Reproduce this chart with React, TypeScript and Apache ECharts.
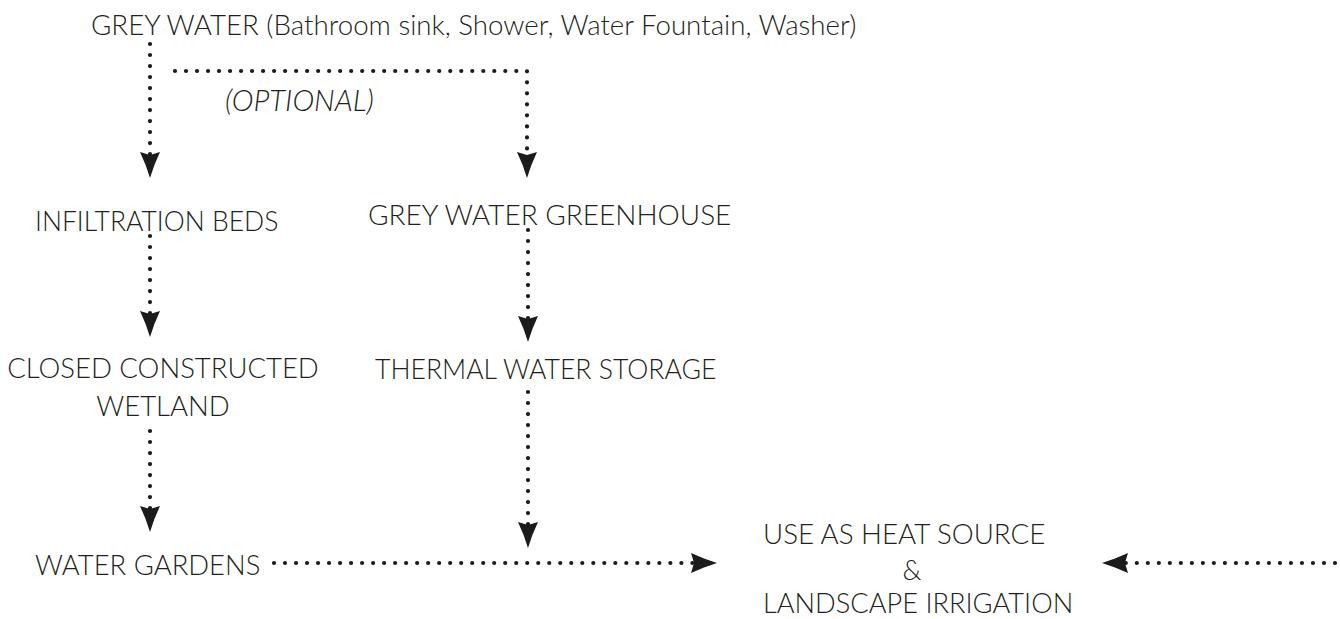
import React, { useEffect, useRef } from "react";
import * as echarts from "echarts";

// Diagram nodes (text labels) in page coordinates
const labelTexts = [
  "GREY WATER (Bathroom sink, Shower, Water Fountain, Washer)",
  "(OPTIONAL)",
  "INFILTRATION BEDS",
  "GREY WATER GREENHOUSE",
  "CLOSED CONSTRUCTED",
  "WETLAND",
  "THERMAL WATER STORAGE",
  "WATER GARDENS",
  "USE AS HEAT SOURCE",
  "&",
  "LANDSCAPE IRRIGATION",
];
const labelX = [91, 225, 35, 368, 163, 163, 375, 35, 763, 912, 763];
const labelY = [24.5, 99, 220.5, 214, 367, 405, 369, 564, 533, 569, 602];
const labelAlign = ["left", "left", "left", "left", "center", "center", "left", "left", "left", "center", "left"];
const labelItalic = [false, true, false, false, false, false, false, false, false, false, false];
const labelFontSize = [27.7, 29.5, 26.5, 28, 27.5, 27.5, 26.6, 27.4, 27.7, 27, 27.2];

// Dotted connectors: start point, optional waypoints; tips of arrowheads
const arrowPaths = [
  [[150, 44]],
  [[175, 71], [527, 71]],
  [[150, 236]],
  [[528, 230]],
  [[150, 431]],
  [[528, 392]],
  [[274, 563]],
  [[1335, 563]],
];
const arrowTips = [
  [150, 178],
  [527, 178],
  [150, 337],
  [528, 342],
  [150, 532],
  [528, 548],
  [717, 563],
  [1102, 563],
];

const TEXT_COLOR = "#231f20";
const LINE_COLOR = "#1c1a1b";
const FONT = "Lato";

export default function App() {
  const ref = useRef<HTMLDivElement>(null);
  useEffect(() => {
    if (!ref.current) return;
    const chart = echarts.init(ref.current, null, { renderer: "svg" });
    chart.setOption({
      animation: false,
      backgroundColor: "#ffffff",
      grid: { left: 0, right: 0, top: 0, bottom: 0 },
      xAxis: { type: "value", min: 0, max: 1340, show: false },
      yAxis: { type: "value", min: 0, max: 619, inverse: true, show: false },
      series: [
        {
          type: "custom",
          coordinateSystem: "cartesian2d",
          data: arrowPaths.map((_, i) => [i, 0]),
          silent: true,
          renderItem: (params: any, api: any) => {
            const i = api.value(0);
            const pts = arrowPaths[i].map((p) => api.coord(p));
            const tip = api.coord(arrowTips[i]);
            const last = pts[pts.length - 1];
            let dx = tip[0] - last[0];
            let dy = tip[1] - last[1];
            const len = Math.sqrt(dx * dx + dy * dy) || 1;
            dx /= len;
            dy /= len;
            const nx = -dy;
            const ny = dx;
            const L = 26;
            const W = 10;
            const end = [tip[0] - 22 * dx, tip[1] - 22 * dy];
            const linePts = pts.concat([end]);
            const head = [
              tip,
              [tip[0] - 13 * dx + 4.4 * nx, tip[1] - 13 * dy + 4.4 * ny],
              [tip[0] - L * dx + W * nx, tip[1] - L * dy + W * ny],
              [tip[0] - 23 * dx, tip[1] - 23 * dy],
              [tip[0] - L * dx - W * nx, tip[1] - L * dy - W * ny],
              [tip[0] - 13 * dx - 4.4 * nx, tip[1] - 13 * dy - 4.4 * ny],
            ];
            return {
              type: "group",
              children: [
                {
                  type: "polyline",
                  shape: { points: linePts },
                  style: {
                    stroke: LINE_COLOR,
                    lineWidth: 4.2,
                    lineDash: [0.01, 11],
                    lineCap: "round",
                    fill: null,
                  },
                },
                {
                  type: "polygon",
                  shape: { points: head },
                  style: { fill: LINE_COLOR },
                },
              ],
            };
          },
        },
        {
          type: "custom",
          coordinateSystem: "cartesian2d",
          data: labelTexts.map((_, i) => [i, 0]),
          silent: true,
          renderItem: (params: any, api: any) => {
            const i = api.value(0);
            const c = api.coord([labelX[i], labelY[i]]);
            return {
              type: "text",
              x: c[0],
              y: c[1],
              style: {
                text: labelTexts[i],
                fill: TEXT_COLOR,
                fontFamily: FONT,
                fontWeight: 300,
                fontStyle: labelItalic[i] ? "italic" : "normal",
                fontSize: labelFontSize[i],
                align: labelAlign[i],
                verticalAlign: "middle",
              },
            };
          },
        },
      ],
    });
    return () => chart.dispose();
  }, []);
  return (
    <div
      ref={ref}
      style={{ position: "fixed", left: 0, top: 0, width: 1340, height: 619, background: "#fff" }}
    />
  );
}
